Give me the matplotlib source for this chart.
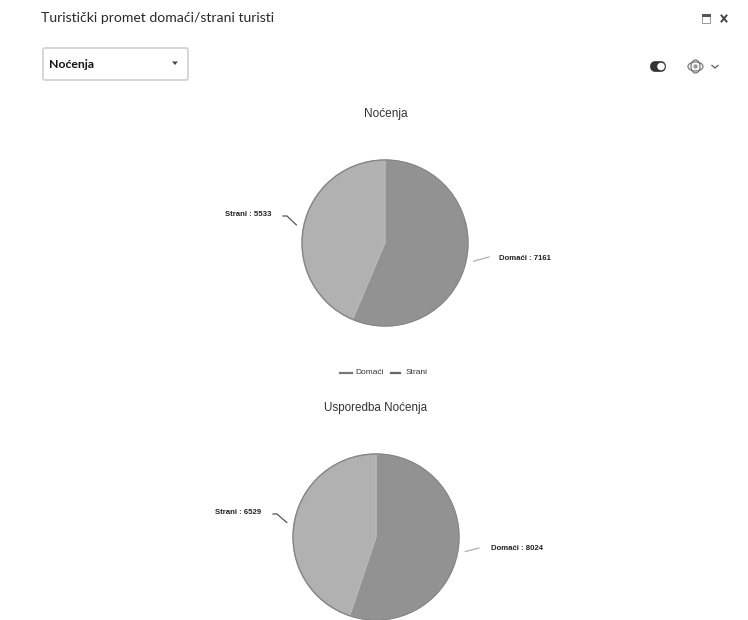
import math
import matplotlib
matplotlib.use("Agg")
from matplotlib import pyplot as plt
from matplotlib.patches import Circle, Ellipse, FancyBboxPatch, Polygon, Rectangle

# Values
categories = ['Domaći', 'Strani']
nocenja = [7161, 5533]
usporedba = [8024, 6529]
pie_colors = ['#929292', '#b1b1b1']

W, H = 748, 620
TEXT = '#2a2a2a'
CHART_FONT = 'Liberation Sans'
UI_FONT = 'Lato'

fig = plt.figure(figsize=(W / 100, H / 100), dpi=100, facecolor='white')

# Overlay in pixel coordinates for the page furniture
ui = fig.add_axes([0, 0, 1, 1])
ui.set_xlim(0, W)
ui.set_ylim(H, 0)
ui.axis('off')


def draw_pie(values, cx, cy, r, label_pos, elbow):
    ax = fig.add_axes([(cx - r) / W, 1 - (cy + r) / H, 2 * r / W, 2 * r / H])
    wedges, _ = ax.pie(values, colors=pie_colors, startangle=90, counterclock=False,
                       radius=1, wedgeprops={'edgecolor': '#b9b9b9', 'linewidth': 0.8})
    # darker rim round the pie
    ax.add_patch(Circle((0, 0), 1, fc='none', ec='#858585', lw=1.0, clip_on=False))
    ax.set_xlim(-1, 1)
    ax.set_ylim(-1, 1)

    total = sum(values)
    start = 0
    for name, val, pos, elb in zip(categories, values, label_pos, elbow):
        mid = math.radians((start + val / 2) / total * 360)
        start += val
        x0 = cx + 1.09 * r * math.sin(mid)
        y0 = cy - 1.09 * r * math.cos(mid)
        ui.plot([x0, elb[0], elb[0] + elb[2]], [y0, elb[1], elb[1]],
                color='#555555' if name == 'Strani' else '#b0b0b0', lw=0.9)
        ui.text(pos[0], pos[1], f'{name} : {val}', ha='center', va='center',
                fontsize=5.6, color='#222222', family=CHART_FONT, weight='bold')


draw_pie(nocenja, 385, 243, 83,
         [(525, 258), (248, 214)], [(489, 257, 0), (287, 216, -4)])
draw_pie(usporedba, 376, 537, 83,
         [(517, 549), (238, 512)], [(479, 548, 0), (277, 514, -4)])

# Chart titles
ui.text(386, 114.5, 'Noćenja', ha='center', va='center', fontsize=8.6, color='#333333', family=CHART_FONT)
ui.text(376, 408, 'Usporedba Noćenja', ha='center', va='center', fontsize=8.4, color='#333333', family=CHART_FONT)

# Legend
ui.plot([340, 352], [373, 373], color='#777777', lw=1.6)
ui.text(355, 373, categories[0], ha='left', va='center', fontsize=6.0, color='#333333', family=CHART_FONT)
ui.plot([391, 400], [373, 373], color='#666666', lw=1.6)
ui.text(406, 373, categories[1], ha='left', va='center', fontsize=6.0, color='#333333', family=CHART_FONT)

# Header
ui.text(41, 18, 'Turistički promet domaći/strani turisti', ha='left', va='center',
        fontsize=10.1, color=TEXT, family=UI_FONT)

# Dropdown
ui.add_patch(FancyBboxPatch((43, 48), 145, 32, boxstyle='round,pad=0,rounding_size=2',
                            fc='white', ec='#cccccc', lw=1.1))
ui.text(49, 64, 'Noćenja', ha='left', va='center', fontsize=8.8, color='#111111',
        family=UI_FONT, weight='bold')
ui.add_patch(Polygon([(172, 61.5), (178, 61.5), (175, 65)], fc='#444444', ec='none'))

# Window icons
ui.add_patch(Rectangle((702.5, 15), 8, 8, fc='white', ec='#999999', lw=0.7))
ui.add_patch(Rectangle((702.5, 14), 9, 3, fc='#555555', ec='none'))
ui.plot([721.5, 726.5], [15.5, 21.5], color='#444444', lw=1.4)
ui.plot([726.5, 721.5], [15.5, 21.5], color='#444444', lw=1.4)

# Toggle
ui.add_patch(FancyBboxPatch((650.5, 61.5), 15, 10, boxstyle='round,pad=0,rounding_size=5',
                            fc='#333333', ec='#333333', lw=0.5))
ui.add_patch(Circle((661, 66.5), 3.8, fc='white', ec='none'))

# Eye icon
ui.add_patch(Ellipse((695.5, 66.5), 15, 9, fc='none', ec='#777777', lw=0.9))
ui.add_patch(Ellipse((695.5, 66.5), 9, 13, fc='none', ec='#777777', lw=0.9))
ui.add_patch(Circle((695.5, 66.5), 2.2, fc='#999999', ec='none'))
ui.plot([712, 715, 718], [65.5, 68, 65.5], color='#666666', lw=1)

fig.savefig('out.png', dpi=100, facecolor='white')
